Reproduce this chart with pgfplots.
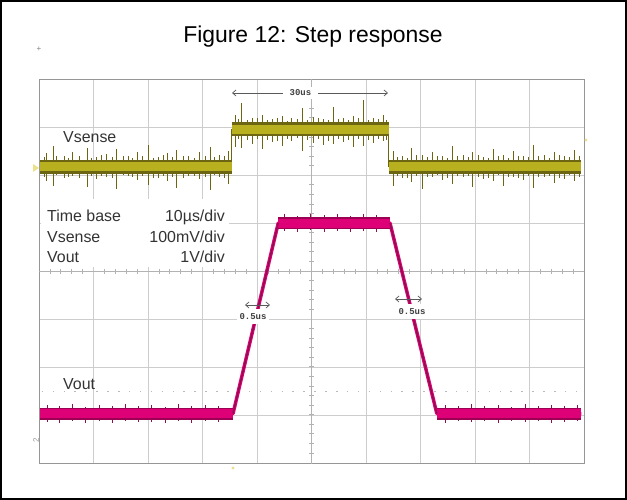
\documentclass[border=0pt]{standalone}
\usepackage{pgfplots}
\pgfplotsset{compat=1.18}
\usepackage{fontspec}
\setmainfont{Liberation Sans}
\newfontfamily\scopefont{Liberation Mono}
\usetikzlibrary{arrows.meta}

\definecolor{vsband}{RGB}{184,176,30}
\definecolor{vsdark}{RGB}{108,102,18}
\definecolor{vohigh}{RGB}{222,0,118}
\definecolor{vodark}{RGB}{140,16,78}
\definecolor{gridc}{RGB}{205,205,205}
\definecolor{framec}{RGB}{150,150,150}
\definecolor{marky}{RGB}{235,225,140}

\pgfplotsset{
    spikes/.style={line width=0.5bp,
        error bars/.cd, y dir=both, y explicit, error mark=none,
        error bar style={#1}},
}

\begin{document}
\begin{tikzpicture}
\useasboundingbox (0,0) rectangle (627bp,500bp);

% centre-line ticks, pixel coordinates (y down)
\begin{scope}[x=1bp,y=-1bp,yshift=500bp]
  \foreach \k in {1,...,39}
    \draw[gray!60, line width=0.7bp] (309,79.5+\k*9.575) -- (314,79.5+\k*9.575);
  \foreach \k in {1,...,49}
    \draw[gray!60, line width=0.7bp] (39+\k*10.9,269) -- (39+\k*10.9,274);
\end{scope}

\begin{axis}[
    at={(39bp,36.5bp)}, anchor=south west,
    scale only axis, width=545bp, height=384bp,
    xmin=-50, xmax=50, ymin=-4, ymax=4,
    xtick={-50,-40,...,50}, ytick={-4,-3,...,4},
    xticklabels={}, yticklabels={},
    major tick length=0pt,
    grid=major,
    major grid style={gridc, line width=0.8bp},
    axis line style={framec, line width=1bp},
    unbounded coords=jump,
]
    \draw[gray!60, line width=0.8bp] (axis cs:0,-4) -- (axis cs:0,4);
    \draw[gray!60, line width=0.8bp] (axis cs:-50,0) -- (axis cs:50,0);
    \draw[gray!55, line width=1bp, dash pattern=on 1.5bp off 9.4bp] (axis cs:-49.5,-2.5) -- (axis cs:49.5,-2.5);

    % ---- Vsense (100 mV/div)
    \addplot[vsdark, line width=1bp] coordinates {
        (-49.8,2.18) (-14.6,2.18) (-14.6,2.96) (14.2,2.96) (14.2,2.18) (49.5,2.18)
    };
    % large spikes
    \addplot[vsdark, spikes={vsdark, line width=0.9bp}] coordinates {
        (-48.6,2.18) +=(0,0.28) -=(0,0.30)
        (-47.4,2.18) +=(0,0.44) -=(0,0.40)
        (-45.3,2.18) +=(0,0.22) -=(0,0.24)
        (-43.9,2.18) +=(0,0.30) -=(0,0.20)
        (-41.2,2.18) +=(0,0.40) -=(0,0.42)
        (-39.5,2.18) +=(0,0.20) -=(0,0.26)
        (-37.6,2.18) +=(0,0.26) -=(0,0.22)
        (-35.7,2.18) +=(0,0.38) -=(0,0.46)
        (-33.6,2.18) +=(0,0.22) -=(0,0.20)
        (-32.0,2.18) +=(0,0.30) -=(0,0.28)
        (-30.0,2.18) +=(0,0.46) -=(0,0.38)
        (-28.1,2.18) +=(0,0.20) -=(0,0.24)
        (-26.4,2.18) +=(0,0.28) -=(0,0.30)
        (-24.7,2.18) +=(0,0.36) -=(0,0.44)
        (-22.6,2.18) +=(0,0.22) -=(0,0.20)
        (-20.5,2.18) +=(0,0.30) -=(0,0.26)
        (-18.6,2.18) +=(0,0.42) -=(0,0.48)
        (-16.9,2.18) +=(0,0.24) -=(0,0.22)
        (-15.3,2.18) +=(0,0.32) -=(0,0.36)
    };
    \addplot[vsdark, spikes={vsdark, line width=0.9bp}] coordinates {
        (-14.0,2.96) +=(0,0.30) -=(0,0.36)
        (-12.8,2.96) +=(0,0.56) -=(0,0.38)
        (-10.9,2.96) +=(0,0.24) -=(0,0.30)
        (-9.0,2.96) +=(0,0.30) -=(0,0.40)
        (-7.2,2.96) +=(0,0.22) -=(0,0.26)
        (-5.4,2.96) +=(0,0.28) -=(0,0.34)
        (-3.6,2.96) +=(0,0.24) -=(0,0.24)
        (-1.7,2.96) +=(0,0.44) -=(0,0.44)
        (0.3,2.96) +=(0,0.26) -=(0,0.28)
        (2.2,2.96) +=(0,0.22) -=(0,0.32)
        (4.0,2.96) +=(0,0.46) -=(0,0.30)
        (5.9,2.96) +=(0,0.24) -=(0,0.26)
        (7.7,2.96) +=(0,0.28) -=(0,0.36)
        (9.5,2.96) +=(0,0.62) -=(0,0.34)
        (11.4,2.96) +=(0,0.24) -=(0,0.28)
        (13.2,2.96) +=(0,0.30) -=(0,0.24)
    };
    \addplot[vsdark, spikes={vsdark, line width=0.9bp}] coordinates {
        (15.0,2.18) +=(0,0.34) -=(0,0.40)
        (16.6,2.18) +=(0,0.22) -=(0,0.24)
        (18.4,2.18) +=(0,0.40) -=(0,0.32)
        (20.3,2.18) +=(0,0.24) -=(0,0.46)
        (22.2,2.18) +=(0,0.30) -=(0,0.22)
        (24.0,2.18) +=(0,0.22) -=(0,0.28)
        (25.9,2.18) +=(0,0.44) -=(0,0.36)
        (27.8,2.18) +=(0,0.24) -=(0,0.22)
        (29.6,2.18) +=(0,0.30) -=(0,0.42)
        (31.5,2.18) +=(0,0.20) -=(0,0.26)
        (33.3,2.18) +=(0,0.38) -=(0,0.30)
        (35.2,2.18) +=(0,0.24) -=(0,0.40)
        (37.1,2.18) +=(0,0.32) -=(0,0.22)
        (38.9,2.18) +=(0,0.22) -=(0,0.28)
        (40.8,2.18) +=(0,0.46) -=(0,0.44)
        (42.7,2.18) +=(0,0.24) -=(0,0.22)
        (44.5,2.18) +=(0,0.30) -=(0,0.34)
        (46.4,2.18) +=(0,0.22) -=(0,0.26)
        (48.2,2.18) +=(0,0.36) -=(0,0.30)
    };
    % small spikes that rough up the edges of the band
    \addplot[vsdark, spikes={vsdark, line width=0.6bp}] coordinates {
        (-49.0,2.18) +=(0,0.20) -=(0,0.22)
        (-46.8,2.18) +=(0,0.23) -=(0,0.18)
        (-44.6,2.18) +=(0,0.18) -=(0,0.21)
        (-42.6,2.18) +=(0,0.22) -=(0,0.24)
        (-40.4,2.18) +=(0,0.19) -=(0,0.20)
        (-38.6,2.18) +=(0,0.24) -=(0,0.19)
        (-36.6,2.18) +=(0,0.20) -=(0,0.23)
        (-34.6,2.18) +=(0,0.22) -=(0,0.18)
        (-32.8,2.18) +=(0,0.18) -=(0,0.22)
        (-31.0,2.18) +=(0,0.23) -=(0,0.20)
        (-29.0,2.18) +=(0,0.19) -=(0,0.24)
        (-27.2,2.18) +=(0,0.24) -=(0,0.19)
        (-25.5,2.18) +=(0,0.20) -=(0,0.21)
        (-23.6,2.18) +=(0,0.22) -=(0,0.23)
        (-21.5,2.18) +=(0,0.18) -=(0,0.19)
        (-19.5,2.18) +=(0,0.23) -=(0,0.22)
        (-17.8,2.18) +=(0,0.20) -=(0,0.18)
        (-16.0,2.18) +=(0,0.22) -=(0,0.24)
    };
    \addplot[vsdark, spikes={vsdark, line width=0.6bp}] coordinates {
        (15.8,2.18) +=(0,0.21) -=(0,0.19)
        (17.5,2.18) +=(0,0.19) -=(0,0.23)
        (19.3,2.18) +=(0,0.24) -=(0,0.20)
        (21.2,2.18) +=(0,0.20) -=(0,0.22)
        (23.1,2.18) +=(0,0.22) -=(0,0.18)
        (25.0,2.18) +=(0,0.18) -=(0,0.24)
        (26.8,2.18) +=(0,0.23) -=(0,0.20)
        (28.7,2.18) +=(0,0.20) -=(0,0.19)
        (30.6,2.18) +=(0,0.24) -=(0,0.22)
        (32.4,2.18) +=(0,0.19) -=(0,0.23)
        (34.2,2.18) +=(0,0.22) -=(0,0.18)
        (36.1,2.18) +=(0,0.18) -=(0,0.21)
        (38.0,2.18) +=(0,0.23) -=(0,0.24)
        (39.8,2.18) +=(0,0.20) -=(0,0.19)
        (41.7,2.18) +=(0,0.22) -=(0,0.22)
        (43.6,2.18) +=(0,0.19) -=(0,0.20)
        (45.4,2.18) +=(0,0.24) -=(0,0.23)
        (47.3,2.18) +=(0,0.20) -=(0,0.18)
        (49.1,2.18) +=(0,0.22) -=(0,0.21)
    };
    \addplot[vsdark, spikes={vsdark, line width=0.6bp}] coordinates {
        (-13.4,2.96) +=(0,0.22) -=(0,0.20)
        (-11.8,2.96) +=(0,0.19) -=(0,0.23)
        (-10.0,2.96) +=(0,0.24) -=(0,0.19)
        (-8.1,2.96) +=(0,0.20) -=(0,0.22)
        (-6.3,2.96) +=(0,0.23) -=(0,0.24)
        (-4.5,2.96) +=(0,0.18) -=(0,0.20)
        (-2.6,2.96) +=(0,0.22) -=(0,0.18)
        (-0.7,2.96) +=(0,0.20) -=(0,0.23)
        (1.2,2.96) +=(0,0.24) -=(0,0.21)
        (3.1,2.96) +=(0,0.19) -=(0,0.24)
        (5.0,2.96) +=(0,0.22) -=(0,0.19)
        (6.8,2.96) +=(0,0.20) -=(0,0.22)
        (8.6,2.96) +=(0,0.23) -=(0,0.20)
        (10.5,2.96) +=(0,0.19) -=(0,0.23)
        (12.3,2.96) +=(0,0.22) -=(0,0.19)
        (13.8,2.96) +=(0,0.20) -=(0,0.22)
    };
    \addplot[vsdark, line width=14bp, line cap=butt] coordinates {
        (-49.8,2.18) (-14.6,2.18) (-14.6,nan)
        (-14.6,2.96) (14.2,2.96) (14.2,nan)
        (14.2,2.18) (49.5,2.18)
    };
    \addplot[vsband, line width=9bp, line cap=butt] coordinates {
        (-49.8,2.18) (-14.6,2.18) (-14.6,nan)
        (-14.6,2.96) (14.2,2.96) (14.2,nan)
        (14.2,2.18) (49.5,2.18)
    };

    % ---- Vout (1 V/div)
    \addplot[vohigh, line width=3.5bp, line join=round] coordinates {
        (-49.8,-2.96) (-14.4,-2.96) (-6.1,1.01) (14.4,1.01) (23.0,-2.96) (49.5,-2.96)
    };
    \addplot[vodark, spikes={vodark, line width=0.9bp}] coordinates {
        (-48.5,-2.96) +=(0,0.17) -=(0,0.18)
        (-46.2,-2.96) +=(0,0.15) -=(0,0.20)
        (-43.8,-2.96) +=(0,0.19) -=(0,0.15)
        (-41.5,-2.96) +=(0,0.14) -=(0,0.19)
        (-39.0,-2.96) +=(0,0.18) -=(0,0.16)
        (-36.6,-2.96) +=(0,0.16) -=(0,0.20)
        (-34.1,-2.96) +=(0,0.20) -=(0,0.15)
        (-31.7,-2.96) +=(0,0.15) -=(0,0.18)
        (-29.3,-2.96) +=(0,0.18) -=(0,0.17)
        (-26.8,-2.96) +=(0,0.14) -=(0,0.20)
        (-24.4,-2.96) +=(0,0.19) -=(0,0.16)
        (-22.0,-2.96) +=(0,0.16) -=(0,0.19)
        (-19.5,-2.96) +=(0,0.18) -=(0,0.15)
        (-17.1,-2.96) +=(0,0.15) -=(0,0.18)
    };
    \addplot[vodark, spikes={vodark, line width=0.9bp}] coordinates {
        (-5.0,1.01) +=(0,0.18) -=(0,0.16)
        (-2.6,1.01) +=(0,0.15) -=(0,0.19)
        (-0.2,1.01) +=(0,0.19) -=(0,0.15)
        (2.3,1.01) +=(0,0.16) -=(0,0.18)
        (4.7,1.01) +=(0,0.18) -=(0,0.17)
        (7.1,1.01) +=(0,0.15) -=(0,0.19)
        (9.6,1.01) +=(0,0.19) -=(0,0.16)
        (12.0,1.01) +=(0,0.16) -=(0,0.18)
    };
    \addplot[vodark, spikes={vodark, line width=0.9bp}] coordinates {
        (24.5,-2.96) +=(0,0.18) -=(0,0.19)
        (26.9,-2.96) +=(0,0.15) -=(0,0.16)
        (29.4,-2.96) +=(0,0.19) -=(0,0.18)
        (31.8,-2.96) +=(0,0.16) -=(0,0.15)
        (34.3,-2.96) +=(0,0.18) -=(0,0.20)
        (36.7,-2.96) +=(0,0.14) -=(0,0.16)
        (39.2,-2.96) +=(0,0.19) -=(0,0.18)
        (41.6,-2.96) +=(0,0.16) -=(0,0.15)
        (44.1,-2.96) +=(0,0.18) -=(0,0.19)
        (46.5,-2.96) +=(0,0.15) -=(0,0.17)
        (48.8,-2.96) +=(0,0.18) -=(0,0.16)
    };
    \addplot[vohigh!70!black, line width=12bp, line cap=butt] coordinates {
        (-49.8,-2.96) (-14.4,-2.96) (-14.4,nan)
        (-6.1,1.01) (14.4,1.01) (14.4,nan)
        (23.0,-2.96) (49.5,-2.96)
    };
    \addplot[vohigh, line width=9bp, line cap=butt] coordinates {
        (-49.8,-2.96) (-14.4,-2.96) (-14.4,nan)
        (-6.1,1.01) (14.4,1.01) (14.4,nan)
        (23.0,-2.96) (49.5,-2.96)
    };
    \addplot[vodark, line width=1.4bp] coordinates {
        (-14.4,-2.96) (-6.1,1.01) (-6.1,nan) (14.4,1.01) (23.0,-2.96)
    };
\end{axis}

% texts, cursors and frame, pixel coordinates (y down)
\begin{scope}[x=1bp,y=-1bp,yshift=500bp,
    lab/.style={inner sep=0pt, text=black!80, font=\fontsize{16}{19}\selectfont},
    cur/.style={inner sep=0pt, text=black!75, font=\scopefont\bfseries\fontsize{9}{10}\selectfont},
    arr/.style={gray!70!black, line width=0.7bp,
        {Straight Barb[length=3.5bp,width=6bp]}-{Straight Barb[length=3.5bp,width=6bp]}}]
  \node[anchor=base, inner sep=0pt, font=\fontsize{23}{27}\selectfont] at (313,43) {Figure 12: Step response};

  \node[lab, anchor=base west] at (63,143) {Vsense};
  \fill[white] (41,199) rectangle (229,267);
  \node[lab, anchor=base west] at (47,222) {Time base};
  \node[lab, anchor=base east] at (225,222) {10µs/div};
  \node[lab, anchor=base west] at (47,243) {Vsense};
  \node[lab, anchor=base east] at (225,243) {100mV/div};
  \node[lab, anchor=base west] at (47,263) {Vout};
  \node[lab, anchor=base east] at (225,263) {1V/div};
  \node[lab, anchor=base west] at (63,390) {Vout};

  % 30 us cursor
  \draw[arr] (232,93) -- (388,93);
  \fill[white] (283,87) rectangle (318,99);
  \node[cur] at (300.5,93) {30us};
  % rise and fall time cursors
  \fill[white] (237,309) rectangle (269,324);
  \node[cur] at (253,316.5) {0.5us};
  \draw[arr] (245,305) -- (270,305);
  \fill[white] (395,304) rectangle (429,319);
  \node[cur] at (412,311.5) {0.5us};
  \draw[arr] (395,299) -- (422,299);

  % channel and trigger markers
  \node[inner sep=0pt, text=gray, font=\fontsize{8}{8}\selectfont] at (39,49) {+};
  \fill[marky] (33,164) -- (39,168) -- (33,172) -- cycle;
  \fill[marky] (586,140) circle (1.6);
  \node[inner sep=0pt, text=gray!80, rotate=90, font=\fontsize{8}{8}\selectfont] at (36,440) {2};
  \fill[marky] (233,468) circle (1.6);

  \draw[black, line width=2.4bp] (1.2,1.2) rectangle (625.8,498.8);
\end{scope}
\end{tikzpicture}
\end{document}
